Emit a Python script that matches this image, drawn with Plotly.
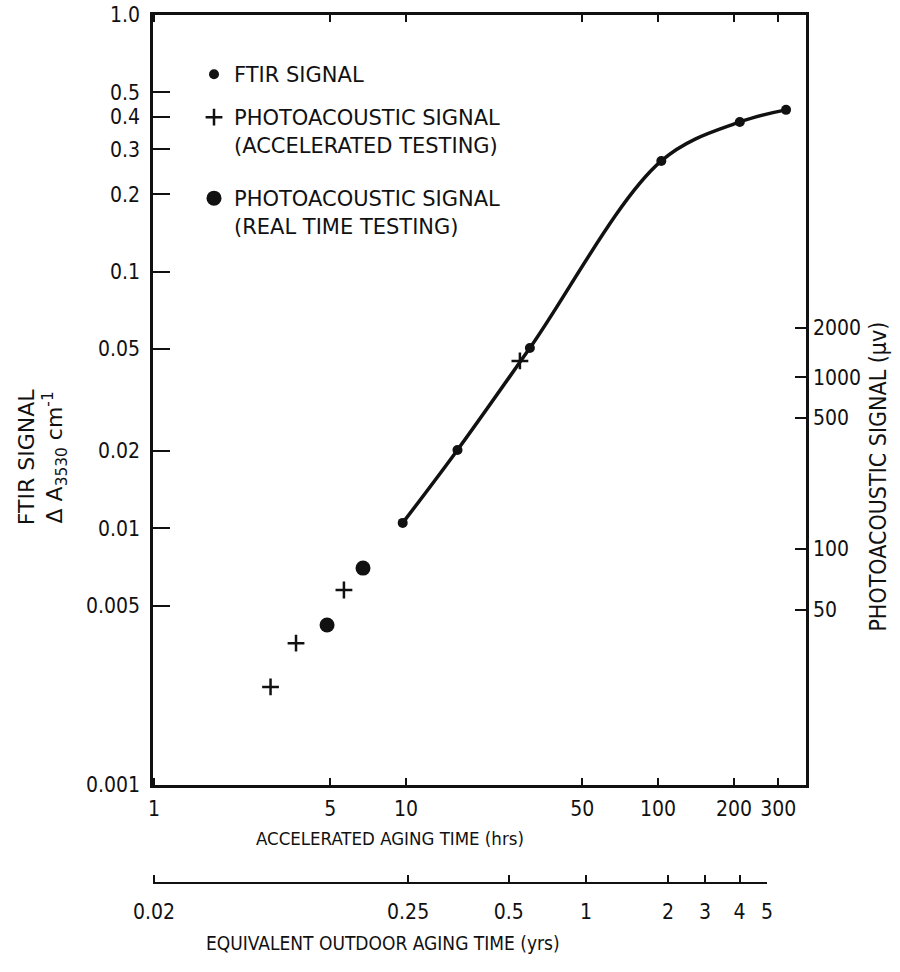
import plotly.graph_objects as go

# ---------------- data ----------------
ftir_hrs = [9.7, 16, 31, 103, 211, 322]
ftir_val = [0.0105, 0.0202, 0.0504, 0.270, 0.383, 0.427]

pa_acc_hrs = [2.9, 3.66, 5.67, 28.3]
pa_acc_val = [0.00241, 0.00357, 0.00575, 0.0449]

pa_rt_hrs = [4.86, 6.75]
pa_rt_val = [0.0042, 0.0070]

x_tick_vals = [1, 5, 10, 50, 100, 200, 300]
x_tick_text = ["1", "5", "10", "50", "100", "200", "300"]

y_tick_vals = [0.001, 0.005, 0.01, 0.02, 0.05, 0.1, 0.2, 0.3, 0.4, 0.5, 1.0]
y_tick_text = ["0.001", "0.005", "0.01", "0.02", "0.05", "0.1", "0.2", "0.3", "0.4", "0.5", "1.0"]

# photoacoustic scale (hand calibrated) : labels and their FTIR-equivalent positions
pa_tick_text = ["50", "100", "500", "1000", "2000"]
pa_tick_pos = [0.00481, 0.0083, 0.0269, 0.0388, 0.0603]

# outdoor-time scale : labels and their accelerated-hours-equivalent positions
out_tick_text = ["0.02", "0.25", "0.5", "1", "2", "3", "4", "5"]
out_tick_pos = [1.0, 10.2, 25.6, 51.8, 109.6, 153.7, 211, 271]

COND = "DejaVu Sans Condensed, Liberation Sans Narrow, sans-serif"
WIDE = "DejaVu Sans, sans-serif"
BLACK = "#111111"

fig = go.Figure()

# FTIR smooth curve
fig.add_trace(go.Scatter(x=ftir_hrs, y=ftir_val, mode="lines",
                         line=dict(color=BLACK, width=3.5, shape="spline", smoothing=1.0),
                         showlegend=False, hoverinfo="skip"))
# FTIR points
fig.add_trace(go.Scatter(x=ftir_hrs, y=ftir_val, mode="markers", name="FTIR SIGNAL",
                         marker=dict(color=BLACK, size=10, symbol="circle"),
                         legend="legend"))
# Photoacoustic accelerated
fig.add_trace(go.Scatter(x=pa_acc_hrs, y=pa_acc_val, mode="markers",
                         name="PHOTOACOUSTIC SIGNAL<br>(ACCELERATED TESTING)",
                         marker=dict(color=BLACK, size=12, symbol="cross-thin",
                                     line=dict(color=BLACK, width=2.5)),
                         legend="legend2"))
# Photoacoustic real time
fig.add_trace(go.Scatter(x=pa_rt_hrs, y=pa_rt_val, mode="markers",
                         name="PHOTOACOUSTIC SIGNAL<br>(REAL TIME TESTING)",
                         marker=dict(color=BLACK, size=15, symbol="circle"),
                         legend="legend3"))
# dummy traces to activate the extra axes
fig.add_trace(go.Scatter(x=[10], y=[0.01], yaxis="y2", mode="markers",
                         marker=dict(opacity=0), showlegend=False, hoverinfo="skip"))
fig.add_trace(go.Scatter(x=[10], y=[0.01], xaxis="x2", yaxis="y3", mode="markers",
                         marker=dict(opacity=0), showlegend=False, hoverinfo="skip"))

tickfont = dict(family=COND, size=21, color=BLACK)
legfont = dict(family=WIDE, size=21, color=BLACK)

ydom = [0.1129, 1.0]

fig.update_layout(
    width=900, height=972,
    margin=dict(l=153, r=94, t=15, b=89, autoexpand=False),
    paper_bgcolor="white", plot_bgcolor="rgba(0,0,0,0)",
    font=dict(family=COND, color=BLACK),
    xaxis=dict(type="log", range=[-0.004, 2.587], domain=[0, 1], anchor="y",
               tickvals=x_tick_vals, ticktext=x_tick_text,
               ticks="inside", ticklen=7, tickwidth=1.5, tickcolor=BLACK,
               showline=True, linewidth=2.5, linecolor=BLACK, mirror="ticks",
               showgrid=False, zeroline=False, tickfont=tickfont, automargin=False,
               ticklabelstandoff=3, ticklabeloverflow="allow"),
    yaxis=dict(type="log", range=[-3, 0], domain=ydom, anchor="x",
               tickvals=y_tick_vals, ticktext=y_tick_text,
               ticks="inside", ticklen=17, tickwidth=2, tickcolor=BLACK,
               showline=True, linewidth=2.5, linecolor=BLACK,
               showgrid=False, zeroline=False, tickfont=tickfont,
               ticklabelstandoff=6, automargin=False, ticklabeloverflow="allow"),
    yaxis2=dict(type="log", range=[-3, 0], overlaying="y", side="right", anchor="x",
                tickvals=pa_tick_pos, ticktext=pa_tick_text,
                ticks="inside", ticklen=11, tickwidth=1.5, tickcolor=BLACK,
                showline=True, linewidth=2.5, linecolor=BLACK,
                showgrid=False, zeroline=False, tickfont=tickfont, automargin=False,
                ticklabeloverflow="allow"),
    xaxis2=dict(type="log", range=[-0.004, 2.433], domain=[0, 0.9403],
                anchor="free", position=0,
                tickvals=out_tick_pos, ticktext=out_tick_text,
                ticks="inside", ticklen=7, tickwidth=1.5, tickcolor=BLACK,
                showline=True, linewidth=2, linecolor=BLACK,
                showgrid=False, zeroline=False, tickfont=tickfont, automargin=False,
                ticklabelstandoff=10, ticklabeloverflow="allow"),
    yaxis3=dict(type="log", range=[-3, 0], domain=ydom, anchor="x2", visible=False),
    legend=dict(x=0.0628, y=0.955, xanchor="left", yanchor="top", font=legfont,
                bgcolor="rgba(0,0,0,0)", valign="top"),
    legend2=dict(x=0.0628, y=0.9055, xanchor="left", yanchor="top", font=legfont,
                 bgcolor="rgba(0,0,0,0)", valign="top"),
    legend3=dict(x=0.0628, y=0.8122, xanchor="left", yanchor="top", font=legfont,
                 bgcolor="rgba(0,0,0,0)", valign="top"),
    annotations=[
        dict(text="ACCELERATED AGING TIME (hrs)", xref="paper", yref="paper",
             x=0.363, y=0.0518, xanchor="center", yanchor="middle", showarrow=False,
             font=dict(family=COND, size=18.5, color=BLACK)),
        dict(text="EQUIVALENT OUTDOOR AGING TIME (yrs)", xref="paper", yref="paper",
             x=0.352, y=-0.069, xanchor="center", yanchor="middle", showarrow=False,
             font=dict(family=COND, size=19, color=BLACK)),
        dict(text="PHOTOACOUSTIC SIGNAL (μv)", xref="paper", yref="paper",
             x=1.110, y=0.468, xanchor="center", yanchor="middle", textangle=-90,
             showarrow=False, font=dict(family=COND, size=23, color=BLACK)),
        dict(text="FTIR SIGNAL<br>Δ A<sub>3530</sub> cm<sup>-1</sup>", xref="paper", yref="paper",
             x=-0.170, y=0.4905, xanchor="center", yanchor="middle", textangle=-90,
             showarrow=False, font=dict(family=WIDE, size=22, color=BLACK)),
    ],
)

fig.write_html("out.html", config={"displayModeBar": False},
               post_script="document.body.style.margin='0';document.body.style.overflow='hidden';")
